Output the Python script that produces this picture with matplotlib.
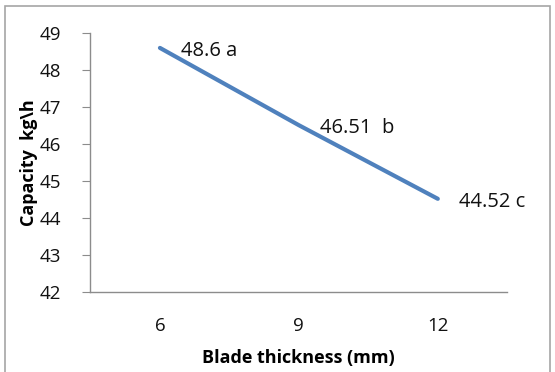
import matplotlib
matplotlib.use("Agg")
import matplotlib.pyplot as plt
from matplotlib.patches import Rectangle

# Blade thickness vs. capacity
categories = ["6", "9", "12"]
capacity = [48.6, 46.51, 44.52]
point_labels = ["48.6 a", "46.51  b", "44.52 c"]
y_ticks = [42, 43, 44, 45, 46, 47, 48, 49]

plt.rcParams["font.family"] = ["Open Sans", "DejaVu Sans"]

fig = plt.figure(figsize=(5.55, 3.72), dpi=100)
fig.patch.set_facecolor("white")
fig.patches.append(Rectangle((0.009, -0.02), 0.982, 1.005, transform=fig.transFigure,
                             fill=False, edgecolor="#a6a6a6", linewidth=1.2))

ax = fig.add_axes([0.163, 0.215, 0.751, 0.696])
x = list(range(len(categories)))
ax.plot(x, capacity, color="#4f81bd", linewidth=3.0, solid_capstyle="round")

for xi, yi, lab in zip(x, capacity, point_labels):
    ax.annotate(lab, (xi, yi), xytext=(21, -3), textcoords="offset pixels",
                ha="left", va="center", fontsize=14.5, color="#111111")

ax.set_xlim(-0.5, len(categories) - 0.5)
ax.set_ylim(y_ticks[0], y_ticks[-1])
ax.set_xticks(x)
ax.set_xticklabels(categories)
ax.set_yticks(y_ticks)

for side in ("top", "right"):
    ax.spines[side].set_visible(False)
for side in ("left", "bottom"):
    ax.spines[side].set_color("#8c8c8c")
    ax.spines[side].set_linewidth(1.0)

ax.tick_params(axis="y", direction="out", length=6, color="#8c8c8c",
               labelsize=13.5, pad=15, labelcolor="#111111")
ax.tick_params(axis="x", length=0, labelsize=13.5, pad=18, labelcolor="#111111")

ax.set_xlabel("Blade thickness (mm)", fontsize=13, fontweight="bold", labelpad=10)
ax.set_ylabel("Capacity  kg\\h", fontsize=13, fontweight="bold", labelpad=1)

fig.savefig("out.png", dpi=100, facecolor="white")
